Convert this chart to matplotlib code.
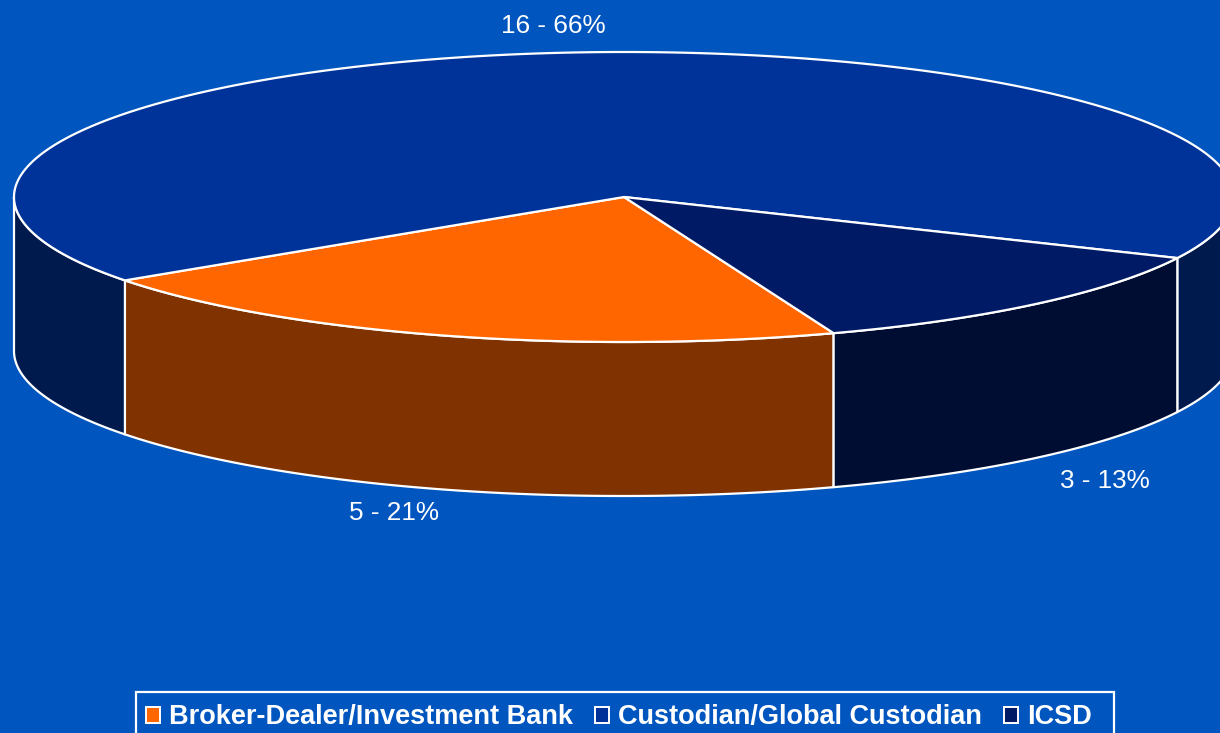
import numpy as np
from matplotlib import pyplot as plt
from matplotlib.patches import Patch, Polygon, Rectangle

categories = ['Broker-Dealer/Investment Bank', 'Custodian/Global Custodian', 'ICSD']
counts = [5, 16, 3]
percents = [21, 66, 13]

topColors = ['#ff6600', '#003399', '#001a66']
sideColors = ['#803300', '#001a4d', '#000d33']
bgColor = '#0055bf'

#Pie geometry in pixels, y pointing down
cx, cy = 624, 197
rx, ry = 610, 145
depth = 154
startAngle = 69.9 #where the first slice starts, clockwise from the right

plt.rcParams['font.family'] = ['Liberation Sans', 'DejaVu Sans']

fig = plt.figure(figsize=(12.2, 7.33), dpi=100, facecolor=bgColor)
ax = fig.add_axes([0, 0, 1, 1])
ax.set_xlim(0, 1220)
ax.set_ylim(733, 0)
ax.axis('off')

#Outline of the rim between two angles (degrees)
def rim(a, b, offset=0):
	t = np.radians(np.linspace(a, b, max(int(abs(b - a)) * 2, 2)))
	return np.column_stack([cx + rx * np.cos(t), cy + offset + ry * np.sin(t)])

#Work out slice angles from the counts
sweeps = np.array(counts) / sum(counts) * 360
starts = startAngle + np.concatenate([[0], np.cumsum(sweeps)[:-1]])

#Side walls first, only the front half of the rim shows
for start, sweep, color in zip(starts, sweeps, sideColors):
	for k in (0, 360):
		a = max(start, k)
		b = min(start + sweep, k + 180)
		if b > a:
			top = rim(a, b)
			bottom = rim(b, a, depth)
			ax.add_patch(Polygon(np.vstack([top, bottom]), closed=True, facecolor=color,
				edgecolor='white', linewidth=1.6, joinstyle='round', zorder=2))

#Top of the pie
for start, sweep, color in zip(starts, sweeps, topColors):
	pts = np.vstack([[cx, cy], rim(start, start + sweep)])
	ax.add_patch(Polygon(pts, closed=True, facecolor=color, edgecolor='white',
		linewidth=1.6, joinstyle='round', zorder=3))

#Data labels
labelPos = [(394, 513), (553, 26), (1105, 481)]
for pos, n, pct in zip(labelPos, counts, percents):
	ax.text(pos[0], pos[1], '%d - %d%%' % (n, pct), color='white', fontsize=18.8,
		ha='center', va='center')

#Legend frame runs off the bottom of the picture
ax.add_patch(Rectangle((136, 692), 978, 60, facecolor=bgColor, edgecolor='white',
	linewidth=1.6, zorder=4))

handles = [Patch(facecolor=c, edgecolor='white', linewidth=1.4) for c in topColors]
leg = ax.legend(handles, categories, loc='upper left', bbox_to_anchor=(136, 694),
	bbox_transform=ax.transData, ncol=3, frameon=False, borderaxespad=0,
	handlelength=0.52, handleheight=0.52, handletextpad=0.33, columnspacing=0.8, borderpad=0.38,
	prop={'family': 'Liberation Sans', 'weight': 'bold', 'size': 19.55})
leg.set_zorder(5)
for t in leg.get_texts():
	t.set_color('white')

fig.savefig('out.png', dpi=100, facecolor=bgColor)
